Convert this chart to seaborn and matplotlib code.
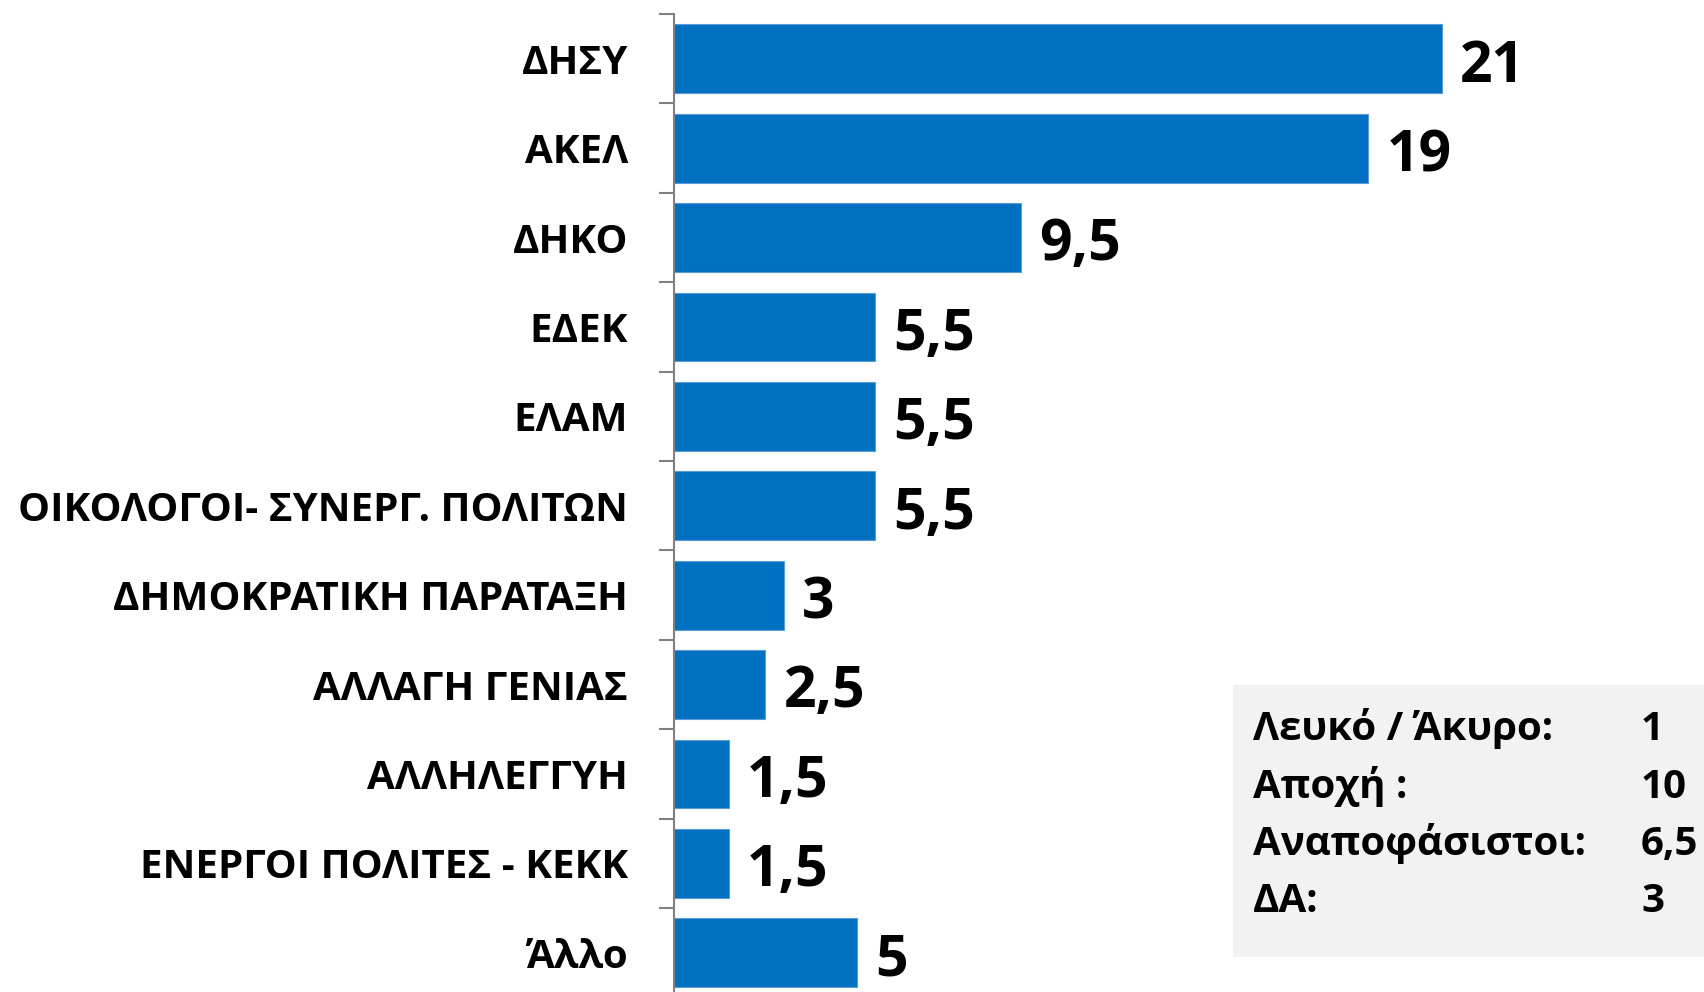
import numpy as np
import pandas as pd
import matplotlib
matplotlib.use("Agg")
import matplotlib.pyplot as plt
import seaborn as sns
from matplotlib.patches import Rectangle

categories = ["ΔΗΣΥ", "ΑΚΕΛ", "ΔΗΚΟ", "ΕΔΕΚ", "ΕΛΑΜ", "ΟΙΚΟΛΟΓΟΙ- ΣΥΝΕΡΓ. ΠΟΛΙΤΩΝ",
              "ΔΗΜΟΚΡΑΤΙΚΗ ΠΑΡΑΤΑΞΗ", "ΑΛΛΑΓΗ ΓΕΝΙΑΣ", "ΑΛΛΗΛΕΓΓΥΗ",
              "ΕΝΕΡΓΟΙ ΠΟΛΙΤΕΣ - ΚΕΚΚ", "Άλλο"]
values = [21, 19, 9.5, 5.5, 5.5, 5.5, 3, 2.5, 1.5, 1.5, 5]

extra_labels = ["Λευκό / Άκυρο:", "Αποχή :", "Αναποφάσιστοι:", "ΔΑ:"]
extra_values = ["1", "10", "6,5", "3"]

sns.set_theme(style="white")
plt.rcParams['font.family'] = ['Open Sans', 'DejaVu Sans']
plt.rcParams['font.weight'] = 'bold'

df = pd.DataFrame({"party": categories, "value": values})

W, H = 1704, 992
top_px, bot_px, left_px = 14, 997.5, 674
fig = plt.figure(figsize=(W / 100, H / 100), dpi=100)
ax = fig.add_axes([left_px / W, 1 - bot_px / H, 1 - left_px / W, (bot_px - top_px) / H])
sns.barplot(data=df, y="party", x="value", orient="h", color="#0070C0",
            saturation=1, width=0.77, ax=ax, edgecolor="#5B9BD5", linewidth=0.8)

ax.set_xlim(0, (W - left_px) / 36.55)
ax.set_ylim(len(categories) - 0.5, -0.5)
ax.set_xlabel("")
ax.set_ylabel("")
ax.set_xticks([])
for s in ["top", "right", "bottom"]:
    ax.spines[s].set_visible(False)
ax.spines["left"].set_color("#808080")
ax.spines["left"].set_linewidth(1.5)

ax.set_yticks(np.arange(-0.5, len(categories), 1), minor=True)
ax.tick_params(axis="y", which="minor", length=11, width=1.5, color="#808080", left=True)
ax.tick_params(axis="y", which="major", length=0, pad=33, labelsize=29)
for lab in ax.get_yticklabels():
    lab.set_fontweight("bold")
    lab.set_color("black")

labels = [f"{v:g}".replace(".", ",") for v in values]
for i, (v, t) in enumerate(zip(values, labels)):
    ax.annotate(t, xy=(v, i), xytext=(13, -16.5), textcoords="offset points",
                va="baseline", ha="left", fontsize=41, fontweight="bold", color="black")

# inset box
fig.patches.append(Rectangle((1233 / W, 1 - 957 / H), 1 - 1233 / W, 272 / H,
                             transform=fig.transFigure, facecolor="#F2F2F2",
                             edgecolor="none", zorder=0))
baselines = [740, 798, 855, 912]
for lbl, val, b in zip(extra_labels, extra_values, baselines):
    fig.text(1253 / W, 1 - b / H, lbl, fontsize=29, fontweight="bold",
             va="baseline", ha="left", color="black")
    fig.text(1641 / W, 1 - b / H, val, fontsize=29, fontweight="bold",
             va="baseline", ha="left", color="black")

fig.savefig("out.png", dpi=100)
